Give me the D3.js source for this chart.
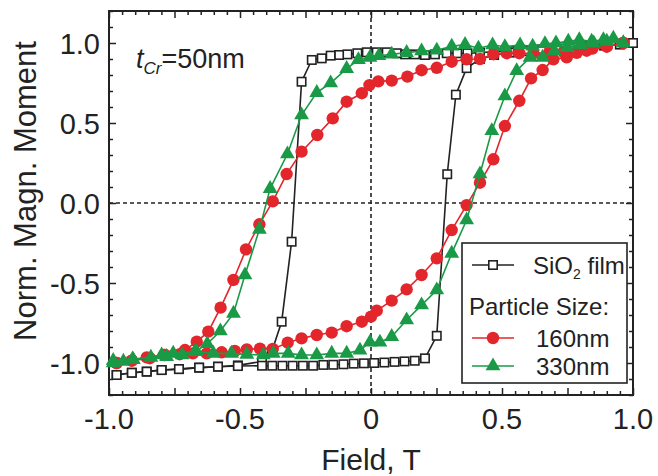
<!DOCTYPE html>
<html><head><meta charset="utf-8">
<script src="https://cdn.jsdelivr.net/npm/d3@7"></script>
<style>body{margin:0;background:#fff}svg{display:block}text{font-family:"Liberation Sans",Arial,sans-serif;fill:#222}</style>
</head><body><svg id="c" width="658" height="476"></svg>
<script>
// ---- data ----
const xTickValues = [-1, -0.5, 0, 0.5, 1];
const xTickLabels = ["-1.0", "-0.5", "0", "0.5", "1.0"];
const yTickValues = [1, 0.5, 0, -0.5, -1];
const yTickLabels = ["1.0", "0.5", "0.0", "-0.5", "-1.0"];
const seriesNames = ["SiO2 film", "160nm", "330nm"];

// SiO2 film: descending branch (+1 -> -1), ascending branch (-1 -> +1)
const sio2Down = [[1.0,1.0],[0.95,0.995],[0.89,0.985],[0.83,0.98],[0.77,0.97],[0.71,0.965],[0.65,0.96],[0.59,0.955],[0.53,0.95],[0.47,0.945],[0.416,0.94],
 [0.368,0.936],[0.329,0.936],[0.289,0.936],[0.244,0.929],[0.206,0.925],[0.168,0.929],[0.130,0.929],[0.098,0.936],[0.060,0.942],[0.022,0.942],
 [-0.016,0.942],[-0.052,0.936],[-0.090,0.929],[-0.122,0.925],[-0.154,0.921],[-0.188,0.904],[-0.226,0.894],[-0.265,0.758],[-0.303,-0.242],
 [-0.341,-0.742],[-0.379,-0.93],[-0.416,-0.99],[-0.508,-1.015],[-0.584,-1.023],[-0.656,-1.029],[-0.733,-1.038],[-0.799,-1.044],[-0.856,-1.054],[-0.913,-1.061],[-0.971,-1.075]];
const sio2Up = [[-0.971,-1.075],[-0.913,-1.061],[-0.856,-1.054],[-0.799,-1.044],[-0.733,-1.038],[-0.656,-1.029],[-0.584,-1.023],[-0.508,-1.019],
 [-0.416,-1.017],[-0.377,-1.017],[-0.338,-1.017],[-0.299,-1.017],[-0.260,-1.017],[-0.221,-1.017],[-0.182,-1.012],[-0.144,-1.011],[-0.105,-1.008],
 [-0.066,-1.004],[-0.027,-1.002],[0.012,-1.0],[0.051,-0.997],[0.090,-0.993],[0.128,-0.99],[0.167,-0.986],[0.206,-0.971],[0.251,-0.83],
 [0.291,0.18],[0.324,0.677],[0.365,0.843],[0.416,0.9],[0.47,0.925],[0.53,0.94],[0.59,0.95],[0.65,0.955],[0.71,0.96],[0.77,0.97],[0.83,0.975],[0.89,0.985],[0.95,0.99],[1.0,1.0]];

// 160 nm particles
const p160Down = [[0.963,1.0],[0.90,0.98],[0.845,0.965],[0.79,0.955],[0.735,0.945],[0.68,0.94],[0.62,0.935],[0.566,0.936],[0.518,0.936],[0.467,0.93],
 [0.416,0.9],[0.365,0.898],[0.308,0.883],[0.251,0.845],[0.193,0.83],[0.139,0.79],[0.079,0.765],[0.028,0.76],[-0.006,0.737],[-0.035,0.686],
 [-0.093,0.633],[-0.146,0.529],[-0.205,0.425],[-0.265,0.321],[-0.322,0.181],[-0.375,0.01],[-0.426,-0.133],[-0.477,-0.29],[-0.525,-0.481],
 [-0.574,-0.654],[-0.621,-0.804],[-0.665,-0.867],[-0.71,-0.919],[-0.786,-0.95],[-0.844,-0.97],[-0.913,-0.985],[-0.971,-1.0]];
const p160Up = [[-0.971,-1.0],[-0.913,-0.985],[-0.856,-0.965],[-0.79,-0.95],[-0.73,-0.945],[-0.68,-0.94],[-0.627,-0.94],[-0.57,-0.933],[-0.52,-0.925],
 [-0.474,-0.915],[-0.424,-0.91],[-0.375,-0.912],[-0.318,-0.873],[-0.265,-0.846],[-0.207,-0.825],[-0.15,-0.81],[-0.093,-0.77],[-0.035,-0.742],
 [0.0,-0.71],[0.022,-0.673],[0.079,-0.61],[0.136,-0.54],[0.193,-0.45],[0.251,-0.346],[0.308,-0.169],[0.365,-0.013],[0.416,0.127],[0.467,0.273],
 [0.511,0.481],[0.566,0.639],[0.611,0.779],[0.655,0.831],[0.696,0.898],[0.747,0.91],[0.785,0.939],[0.823,0.952],[0.90,0.977],[0.963,1.0]];

// 330 nm particles
const p330Down = [[0.963,1.0],[0.925,1.03],[0.887,1.02],[0.842,1.01],[0.795,1.02],[0.753,1.01],[0.706,1.0],[0.664,0.995],[0.617,0.98],[0.569,0.987],
 [0.511,0.977],[0.464,0.987],[0.41,0.967],[0.359,0.99],[0.308,0.98],[0.251,0.955],[0.193,0.95],[0.136,0.94],[0.079,0.93],[0.03,0.92],[-0.004,0.91],
 [-0.048,0.895],[-0.093,0.84],[-0.154,0.75],[-0.207,0.69],[-0.265,0.55],[-0.319,0.306],[-0.385,0.09],[-0.426,-0.165],[-0.481,-0.45],[-0.525,-0.69],
 [-0.575,-0.8],[-0.625,-0.88],[-0.672,-0.93],[-0.72,-0.95],[-0.78,-0.96],[-0.84,-0.965],[-0.91,-0.975],[-0.984,-0.985]];
const p330Up = [[-0.984,-1.0],[-0.945,-0.99],[-0.907,-0.98],[-0.799,-0.95],[-0.755,-0.94],[-0.665,-0.93],[-0.602,-0.94],[-0.532,-0.94],[-0.474,-0.946],
 [-0.411,-0.95],[-0.373,-0.94],[-0.316,-0.94],[-0.265,-0.95],[-0.207,-0.95],[-0.15,-0.94],[-0.093,-0.94],[-0.042,-0.92],[-0.004,-0.87],[0.034,-0.87],
 [0.079,-0.835],[0.136,-0.731],[0.193,-0.638],[0.251,-0.544],[0.308,-0.315],[0.365,-0.106],[0.416,0.181],[0.461,0.452],[0.511,0.669],[0.556,0.827],
 [0.607,0.91],[0.655,0.91],[0.70,0.95],[0.75,0.97],[0.80,0.99],[0.85,1.0],[0.90,1.01],[0.963,1.0]];

// ---- drawing ----
const svg = d3.select("#c");
const x = d3.scaleLinear().domain([-1, 1]).range([109, 633]);
const y = d3.scaleLinear().domain([-1.2, 1.2]).range([395, 11]);
const RED = "#e3262b", GREEN = "#1a9a46", BLACK = "#222";

// zero dashed lines
svg.append("line").attr("x1", x(0)).attr("x2", x(0)).attr("y1", y(1.2)).attr("y2", y(-1.2))
  .attr("stroke", BLACK).attr("stroke-width", 1.6).attr("stroke-dasharray", "4,3");
svg.append("line").attr("x1", x(-1)).attr("x2", x(1)).attr("y1", y(0)).attr("y2", y(0))
  .attr("stroke", BLACK).attr("stroke-width", 1.6).attr("stroke-dasharray", "4,3");

// axes (inward ticks on all sides)
const xMajor = d3.range(-1, 1.0001, 0.25);
const xMinor = d3.range(-20, 21).map(i => i * 0.05).filter(v => Math.abs(Math.round(v * 4) - v * 4) > 1e-6);
const yMajor = d3.range(-1, 1.0001, 0.5);
const yMinor = d3.range(-12, 13).map(i => i * 0.1).filter(v => Math.abs(Math.round(v * 2) - v * 2) > 1e-6);
function addAxis(gen, tv, size, tr) {
  const g = svg.append("g").attr("transform", tr)
    .call(gen.tickValues(tv).tickSize(size).tickFormat(""));
  g.select(".domain").remove();
  g.selectAll("line").attr("stroke", BLACK).attr("stroke-width", 1.5);
}
addAxis(d3.axisBottom(x), xMajor, -7, `translate(0,${y(-1.2)})`);
addAxis(d3.axisBottom(x), xMinor, -4, `translate(0,${y(-1.2)})`);
addAxis(d3.axisTop(x), xMajor, -7, `translate(0,${y(1.2)})`);
addAxis(d3.axisTop(x), xMinor, -4, `translate(0,${y(1.2)})`);
addAxis(d3.axisLeft(y), yMajor, -7, `translate(${x(-1)},0)`);
addAxis(d3.axisLeft(y), yMinor, -4, `translate(${x(-1)},0)`);
addAxis(d3.axisRight(y), yMajor, -7, `translate(${x(1)},0)`);
addAxis(d3.axisRight(y), yMinor, -4, `translate(${x(1)},0)`);

svg.append("rect").attr("x", x(-1)).attr("y", y(1.2)).attr("width", x(1) - x(-1)).attr("height", y(-1.2) - y(1.2))
  .attr("fill", "none").attr("stroke", BLACK).attr("stroke-width", 2);

// tick labels
svg.append("g").selectAll("text").data(xTickValues).join("text")
  .attr("x", d => x(d)).attr("y", 429).attr("text-anchor", "middle").attr("font-size", 29)
  .text((d, i) => xTickLabels[i]);
svg.append("g").selectAll("text").data(yTickValues).join("text")
  .attr("x", 100).attr("y", d => y(d) + 10.5).attr("text-anchor", "end").attr("font-size", 29)
  .text((d, i) => yTickLabels[i]);

// axis titles
svg.append("text").attr("x", x(0)).attr("y", 470).attr("text-anchor", "middle").attr("font-size", 30).text("Field, T");
svg.append("text").attr("transform", "translate(36,191) rotate(-90)").attr("text-anchor", "middle").attr("font-size", 31).text("Norm. Magn. Moment");

// annotation
const ann = svg.append("text").attr("x", 136).attr("y", 68).attr("font-size", 27);
ann.append("tspan").attr("font-style", "italic").text("t");
ann.append("tspan").attr("font-style", "italic").attr("font-size", 17).attr("dy", 6).text("Cr");
ann.append("tspan").attr("dy", -6).text("=50nm");

// series
const line = d3.line().x(d => x(d[0])).y(d => y(d[1]));
const tri = d3.symbol(d3.symbolTriangle).size(95);
const SQ = 8.4, R = 6.2;
function drawSeries(branches, color, kind) {
  const g = svg.append("g");
  branches.forEach(b => {
    g.append("path").attr("d", line(b)).attr("fill", "none").attr("stroke", color).attr("stroke-width", 1.6);
  });
  branches.forEach(b => {
    if (kind === "square") {
      g.selectAll(null).data(b).join("rect").attr("x", d => x(d[0]) - SQ / 2).attr("y", d => y(d[1]) - SQ / 2)
        .attr("width", SQ).attr("height", SQ).attr("fill", "#fff").attr("stroke", color).attr("stroke-width", 1.6);
    } else if (kind === "circle") {
      g.selectAll(null).data(b).join("circle").attr("cx", d => x(d[0])).attr("cy", d => y(d[1])).attr("r", R).attr("fill", color);
    } else {
      g.selectAll(null).data(b).join("path").attr("d", tri).attr("transform", d => `translate(${x(d[0])},${y(d[1])})`).attr("fill", color);
    }
  });
}
drawSeries([sio2Down, sio2Up], BLACK, "square");
drawSeries([p160Down, p160Up], RED, "circle");
drawSeries([p330Down, p330Up], GREEN, "triangle");

// legend
const lg = svg.append("g");
lg.append("rect").attr("x", 462).attr("y", 243).attr("width", 165).attr("height", 140)
  .attr("fill", "#fff").attr("stroke", BLACK).attr("stroke-width", 1.6);
const rows = [{y: 265, c: BLACK, k: "square", t: seriesNames[0]}, {y: 338, c: RED, k: "circle", t: seriesNames[1]}, {y: 366, c: GREEN, k: "triangle", t: seriesNames[2]}];
rows.forEach((r, i) => {
  lg.append("line").attr("x1", 472).attr("x2", 514).attr("y1", r.y).attr("y2", r.y).attr("stroke", r.c).attr("stroke-width", 1.6);
  if (r.k === "square") lg.append("rect").attr("x", 493 - SQ / 2).attr("y", r.y - SQ / 2).attr("width", SQ).attr("height", SQ).attr("fill", "#fff").attr("stroke", r.c).attr("stroke-width", 1.6);
  else if (r.k === "circle") lg.append("circle").attr("cx", 493).attr("cy", r.y).attr("r", R).attr("fill", r.c);
  else lg.append("path").attr("d", tri).attr("transform", `translate(493,${r.y})`).attr("fill", r.c);
  const t = lg.append("text").attr("x", i === 0 ? 533 : 536).attr("y", r.y + 8.5).attr("font-size", 24);
  if (i === 0) { t.append("tspan").text("SiO"); t.append("tspan").attr("font-size", 14).attr("dy", 5).text("2"); t.append("tspan").attr("dy", -5).text(" film"); }
  else t.text(r.t);
});
lg.append("text").attr("x", 469).attr("y", 315).attr("font-size", 24).text("Particle Size:");
</script></body></html>
